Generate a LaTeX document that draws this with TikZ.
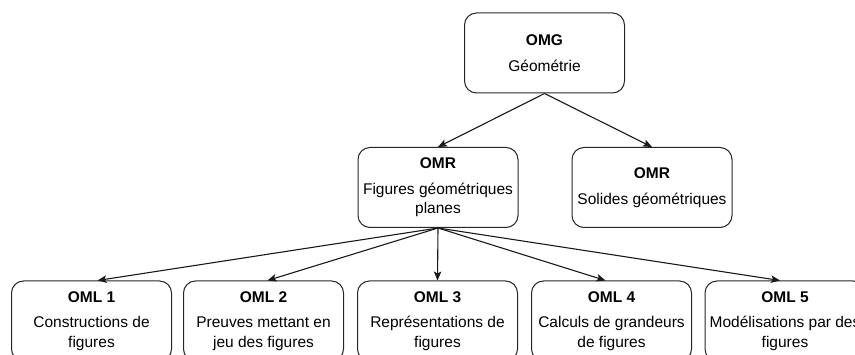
\documentclass[tikz,border=0pt]{standalone}
\usepackage{fontspec}
\setmainfont{Liberation Sans}
\usetikzlibrary{arrows.meta}
\begin{document}
\begin{tikzpicture}[x=1pt,y=-1pt,
  box/.style={draw=black!85, line width=1pt, rounded corners=12pt, minimum width=160pt, minimum height=80pt, align=center, font=\fontsize{15.5}{19.5}\selectfont, inner sep=2pt},
  link/.style={draw=black!90, line width=1.1pt, -{Stealth[length=9pt,width=7.5pt,inset=2pt]}}]
\useasboundingbox (0,0) rectangle (855,355);
\clip (0,0) rectangle (855,355);
\node[box] (omg) at (544.5,53) {\textbf{OMG}\\[7pt]Géométrie};
\node[box] (omr1) at (438,187.5) {\textbf{OMR}\\[6pt]Figures géométriques\\planes};
\node[box] (omr2) at (652,187.5) {\textbf{OMR}\\[6pt]Solides géométriques};
\node[box] (oml1) at (91.5,321) {\textbf{OML 1}\\[6pt]Constructions de\\figures};
\node[box] (oml2) at (263.5,321) {\textbf{OML 2}\\[6pt]Preuves mettant en\\jeu des figures};
\node[box] (oml3) at (437.5,321) {\textbf{OML 3}\\[6pt]Représentations de\\figures};
\node[box] (oml4) at (611.5,321) {\textbf{OML 4}\\[6pt]Calculs de grandeurs\\de figures};
\node[box] (oml5) at (785,321) {\textbf{OML 5}\\[6pt]Modélisations par des\\figures};
\draw[link] (omg.south) -- (omr1.north);
\draw[link] (omg.south) -- (omr2.north);
\draw[link] (omr1.south) -- ([xshift=6pt]oml1.north);
\draw[link] (omr1.south) -- ([xshift=4pt]oml2.north);
\draw[link] (omr1.south) -- (oml3.north);
\draw[link] (omr1.south) -- ([xshift=-6pt]oml4.north);
\draw[link] (omr1.south) -- ([xshift=-5pt]oml5.north);
\end{tikzpicture}
\end{document}
